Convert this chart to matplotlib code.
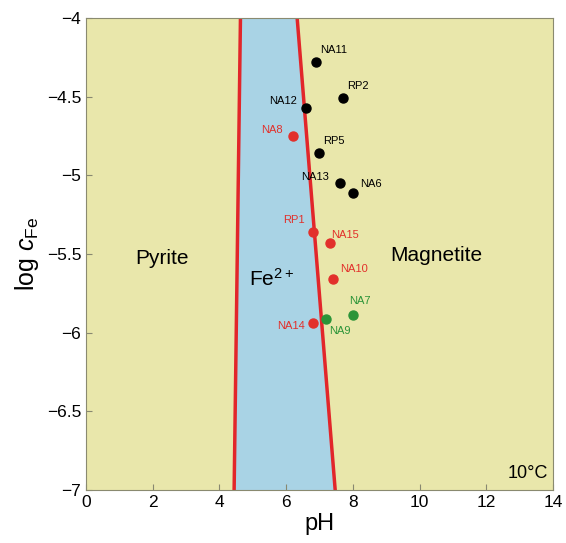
import matplotlib
matplotlib.use('Agg')
import matplotlib.pyplot as plt
import numpy as np

plt.rcParams['font.family'] = ['Liberation Sans', 'DejaVu Sans']
plt.rcParams['mathtext.fontset'] = 'custom'
plt.rcParams['mathtext.rm'] = 'Liberation Sans'
plt.rcParams['mathtext.it'] = 'Liberation Sans:italic'

# Boundary lines of the Fe2+ field (pH at log c = -4 and -7)
logc_ends = [-4.0, -7.0]
left_bound = [4.63, 4.44]
right_bound = [6.33, 7.47]

# Sample points
names = ['NA11', 'RP2', 'NA12', 'NA8', 'RP5', 'NA13', 'NA6',
         'RP1', 'NA15', 'NA10', 'NA7', 'NA9', 'NA14']
ph = [6.90, 7.70, 6.61, 6.21, 6.99, 7.60, 8.00,
      6.79, 7.30, 7.40, 8.00, 7.20, 6.81]
logc = [-4.28, -4.51, -4.57, -4.75, -4.86, -5.05, -5.11,
        -5.36, -5.43, -5.66, -5.89, -5.91, -5.94]
groups = ['k', 'k', 'k', 'r', 'k', 'k', 'k',
          'r', 'r', 'r', 'g', 'g', 'r']
# label offsets in points
offsets = [(3, 5), (3, 5), (-27, 1), (-23, 1), (3, 5), (-28, 1), (5, 3),
           (-21, 5), (1, 2), (5, 4), (-3, 7), (2, -9), (-26, -2)]

colors = {'k': '#000000', 'r': '#e2302b', 'g': '#2b9438'}
yellow = '#e9e7ab'
blue = '#a9d3e5'
red_line = '#e2262a'

fig = plt.figure(figsize=(5.66, 5.43), dpi=100)
ax = fig.add_axes([0.152, 0.0976, 0.825, 0.869])
ax.set_facecolor(yellow)

yy = np.array(logc_ends)
ax.fill_betweenx(yy, left_bound, right_bound, color=blue, zorder=1)
ax.plot(left_bound, yy, color=red_line, lw=2.5, zorder=2)
ax.plot(right_bound, yy, color=red_line, lw=2.5, zorder=2)

for n, x, y, g, off in zip(names, ph, logc, groups, offsets):
    c = colors[g]
    ax.plot(x, y, 'o', color=c, ms=6.5, zorder=3)
    ax.annotate(n, (x, y), xytext=off, textcoords='offset points',
                fontsize=8, color=c, va='bottom' if off[1] > 0 else 'center')

ax.text(2.27, -5.53, 'Pyrite', fontsize=15, ha='center', va='center')
ax.text(5.55, -5.66, 'Fe$^{2+}$', fontsize=15, ha='center', va='center')
ax.text(10.5, -5.51, 'Magnetite', fontsize=15, ha='center', va='center')
ax.text(13.85, -6.95, '10°C', fontsize=13, ha='right', va='bottom')

ax.set_xlim(0, 14)
ax.set_ylim(-7, -4)
ax.set_xticks(range(0, 15, 2))
ax.set_yticks([-7, -6.5, -6, -5.5, -5, -4.5, -4])
ax.set_yticklabels(['\u22127', '\u22126.5', '\u22126', '\u22125.5', '\u22125', '\u22124.5', '\u22124'])
ax.tick_params(direction='in', length=4, labelsize=12.5, color='#888870')
for s in ax.spines.values():
    s.set_color('#8a8a70')
ax.set_xlabel('pH', fontsize=17, labelpad=2)
ax.set_ylabel('log $c_{\\mathrm{Fe}}$', fontsize=18, labelpad=4)

fig.savefig('out.png', dpi=100)
